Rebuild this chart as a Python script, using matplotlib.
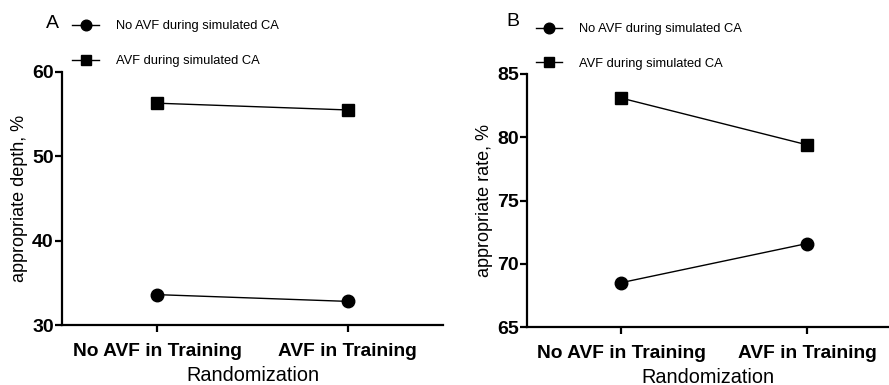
import matplotlib
matplotlib.use("Agg")
import matplotlib.pyplot as plt

plt.rcParams['font.family'] = ['Liberation Sans', 'DejaVu Sans']

categories = ["No AVF in Training", "AVF in Training"]
series_names = ["No AVF during simulated CA", "AVF during simulated CA"]

depth_no_avf = [33.6, 32.8]
depth_avf = [56.3, 55.5]
rate_no_avf = [68.5, 71.6]
rate_avf = [83.1, 79.4]

depth_ticks = [30, 40, 50, 60]
rate_ticks = [65, 70, 75, 80, 85]

W, H = 889, 385
fig = plt.figure(figsize=(W / 100, H / 100), dpi=100)

def px_axes(left, right, top, bottom):
    return fig.add_axes([left / W, (H - bottom) / H, (right - left) / W, (bottom - top) / H])

axA = px_axes(62, 443, 72, 325)
axB = px_axes(527, 889, 74, 327)

def style(ax, ylim, yticks, ylabel, xlim):
    ax.set_ylim(*ylim)
    ax.set_xlim(*xlim)
    ax.set_yticks(yticks)
    ax.set_xticks(range(len(categories)))
    ax.set_xticklabels(categories, fontsize=13.8, fontweight='bold')
    for lab in ax.get_yticklabels():
        lab.set_fontweight('bold')
        lab.set_fontsize(14)
    ax.spines['top'].set_visible(False)
    ax.spines['right'].set_visible(False)
    for s in ['left', 'bottom']:
        ax.spines[s].set_linewidth(1.6)
    ax.tick_params(axis='y', width=1.6, length=5, direction='out', pad=1)
    ax.tick_params(axis='x', width=1.6, length=5, direction='out', pad=8)
    ax.set_ylabel(ylabel, fontsize=13, labelpad=3)
    ax.set_xlabel("Randomization", fontsize=14.3, labelpad=4)

x = list(range(len(categories)))
hA1, = axA.plot(x, depth_no_avf, '-o', color='black', lw=1.0, ms=9, label=series_names[0], clip_on=False)
hA2, = axA.plot(x, depth_avf, '-s', color='black', lw=1.0, ms=8.5, label=series_names[1], clip_on=False)
hB1, = axB.plot(x, rate_no_avf, '-o', color='black', lw=1.0, ms=9, label=series_names[0], clip_on=False)
hB2, = axB.plot(x, rate_avf, '-s', color='black', lw=1.0, ms=8.5, label=series_names[1], clip_on=False)

style(axA, (30, 60), depth_ticks, "appropriate depth, %", (-0.5, 1.5))
style(axB, (65, 85), rate_ticks, "appropriate rate, %", (-0.505, 1.44))

legA = fig.legend(handles=[hA1, hA2], loc='upper left', bbox_to_anchor=(72 / W, 1 - 20 / H),
                  frameon=False, fontsize=9.3, labelspacing=1.8, handlelength=2.1,
                  handletextpad=1.3, borderaxespad=0, borderpad=0, markerscale=0.85)
legB = fig.legend(handles=[hB1, hB2], loc='upper left', bbox_to_anchor=(536 / W, 1 - 23 / H),
                  frameon=False, fontsize=9.3, labelspacing=1.75, handlelength=2.0,
                  handletextpad=1.3, borderaxespad=0, borderpad=0, markerscale=0.85)

fig.text(52 / W, 1 - 24 / H, "A", fontsize=14, va='center', ha='center')
fig.text(513 / W, 1 - 22 / H, "B", fontsize=14, va='center', ha='center')

fig.savefig("out.png", dpi=100)
